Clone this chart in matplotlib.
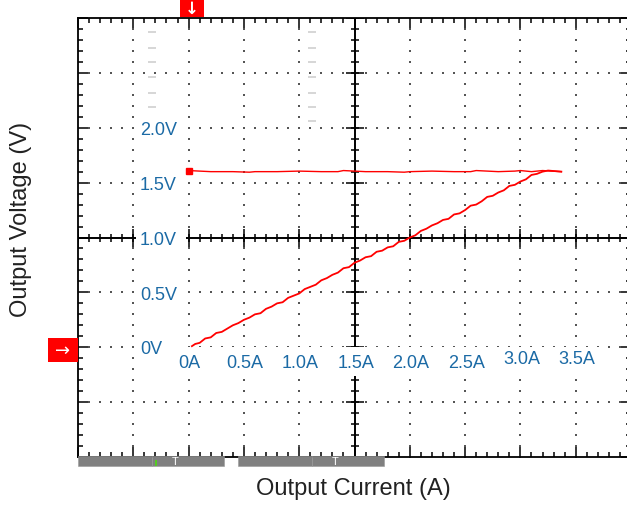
import numpy as np
import matplotlib.pyplot as plt
from matplotlib.patches import Rectangle

plt.rcParams['font.family'] = ['Liberation Sans', 'DejaVu Sans']

# trace (current in A, voltage in V)
ramp_i = [0.03, 0.06, 0.10, 0.15, 0.20, 0.25, 0.30, 0.35, 0.40, 0.45, 0.50, 0.55,
          0.60, 0.65, 0.70, 0.75, 0.80, 0.85, 0.90, 0.95, 1.00, 1.05, 1.10, 1.15,
          1.20, 1.25, 1.30, 1.35, 1.40, 1.45, 1.50, 1.55, 1.60, 1.65, 1.70, 1.75,
          1.80, 1.85, 1.90, 1.95, 2.00, 2.05, 2.10, 2.15, 2.20, 2.25, 2.30, 2.35,
          2.40, 2.45, 2.50, 2.55, 2.60, 2.65, 2.70, 2.75, 2.80, 2.85, 2.90, 2.95,
          3.00, 3.05, 3.10, 3.15, 3.20, 3.25, 3.37]
ramp_v = [0.01, 0.03, 0.04, 0.08, 0.09, 0.13, 0.14, 0.17, 0.20, 0.22, 0.25, 0.27,
          0.30, 0.31, 0.35, 0.37, 0.40, 0.41, 0.45, 0.47, 0.49, 0.53, 0.55, 0.57,
          0.61, 0.63, 0.66, 0.68, 0.72, 0.73, 0.77, 0.79, 0.82, 0.83, 0.87, 0.88,
          0.91, 0.92, 0.96, 0.97, 1.00, 1.02, 1.06, 1.08, 1.11, 1.13, 1.16, 1.17,
          1.21, 1.22, 1.25, 1.29, 1.30, 1.33, 1.37, 1.38, 1.41, 1.43, 1.47, 1.48,
          1.51, 1.53, 1.57, 1.58, 1.60, 1.61, 1.60]
flat_i = [0.00, 0.20, 0.40, 0.55, 0.60, 0.80, 1.00, 1.20, 1.35, 1.40, 1.60, 1.80,
          1.95, 2.00, 2.20, 2.40, 2.55, 2.60, 2.80, 2.95, 3.00, 3.10, 3.20, 3.37]
flat_v = [1.61, 1.60, 1.60, 1.595, 1.60, 1.60, 1.605, 1.60, 1.60, 1.61, 1.60, 1.60,
          1.595, 1.60, 1.605, 1.60, 1.60, 1.61, 1.60, 1.605, 1.61, 1.60, 1.61, 1.60]

v_ticks = [0.0, 0.5, 1.0, 1.5, 2.0]
v_labels = ['0V', '0.5V', '1.0V', '1.5V', '2.0V']
i_ticks = [0.0, 0.5, 1.0, 1.5, 2.0, 2.5, 3.0, 3.5]
i_labels = ['0A', '0.5A', '1.0A', '1.5A', '2.0A', '2.5A', '3.0A', '3.5A']

# faint gray dash artifacts near the top
dash_x = [-0.33, -0.33, -0.33, -0.33, -0.33, -0.33, 1.12, 1.12, 1.12, 1.12, 1.12, 1.12, 1.12]
dash_y = [2.87, 2.73, 2.60, 2.46, 2.32, 2.19, 2.87, 2.73, 2.60, 2.46, 2.32, 2.19, 2.06]

W, H = 627, 506
fig = plt.figure(figsize=(W / 100, H / 100), dpi=100)
ax = fig.add_axes([78 / W, 48 / H, 553 / W, 439 / H])
ax.set_xlim(-1.0, 4.0)
ax.set_ylim(-1.0, 3.0)

for s in ax.spines.values():
    s.set_linewidth(1.3)
ax.set_xticks(np.arange(-1.0, 4.01, 0.5))
ax.set_yticks(np.arange(-1.0, 3.01, 0.5))
ax.set_xticks(np.arange(-1.0, 4.01, 0.1), minor=True)
ax.set_yticks(np.arange(-1.0, 3.01, 0.1), minor=True)
ax.tick_params(which='both', direction='in', top=True, right=True,
               labelbottom=False, labelleft=False, width=1.1, color='black')
ax.tick_params(which='major', length=7)
ax.tick_params(which='minor', length=3.6)

# dotted graticule
xmaj = [x for x in np.arange(-0.5, 3.6, 0.5) if abs(x - 1.5) > 1e-6]
ymaj = [y for y in np.arange(-0.5, 2.6, 0.5) if abs(y - 1.0) > 1e-6]
xmin = np.arange(-1.0, 4.01, 0.1)
ymin = np.arange(-1.0, 3.01, 0.1)
gx, gy = np.meshgrid(xmaj, ymin)
ax.scatter(gx.ravel(), gy.ravel(), s=1.6, marker='s', color='#555555', linewidths=0, zorder=2)
gx, gy = np.meshgrid(xmin, ymaj)
ax.scatter(gx.ravel(), gy.ravel(), s=1.6, marker='s', color='#555555', linewidths=0, zorder=2)

# centre cross axes with ticks
ax.axhline(1.0, color='black', lw=1.4, zorder=2.5)
ax.axvline(1.5, color='black', lw=1.4, zorder=2.5)
ax.plot(xmin, np.full_like(xmin, 1.0), ls='none', marker='|', ms=5.8, mew=1.1, color='black', zorder=2.5)
ax.plot(np.full_like(ymin, 1.5), ymin, ls='none', marker='_', ms=5.8, mew=1.1, color='black', zorder=2.5)
xM = np.arange(-1.0, 4.01, 0.5)
yM = np.arange(-1.0, 3.01, 0.5)
ax.plot(xM, np.full_like(xM, 1.0), ls='none', marker='|', ms=13, mew=1.1, color='black', zorder=2.5)
ax.plot(np.full_like(yM, 1.5), yM, ls='none', marker='_', ms=13, mew=1.1, color='black', zorder=2.5)

ax.scatter(dash_x, dash_y, marker='_', s=30, color='#d0d0d0', linewidths=1.2, zorder=2)

# white band behind current labels, boxes behind voltage labels
ax.add_patch(Rectangle((-0.2, -0.265), 3.95, 0.265, facecolor='white', edgecolor='none', zorder=3))
for v in v_ticks:
    ax.add_patch(Rectangle((-0.48, v - 0.08), 0.46, 0.16, facecolor='white', edgecolor='none', zorder=3))

blue = '#1b6aa5'
for v, lab in zip(v_ticks, v_labels):
    ax.text(-0.44, v - 0.015, lab, ha='left', va='center', fontsize=13, color=blue, zorder=6)
for i, lab in zip(i_ticks, i_labels):
    dy = 0.03 if i >= 3.0 else 0.0
    ax.text(i + 0.01, -0.135 + dy, lab, ha='center', va='center', fontsize=13, color=blue, zorder=6)

# trace
ax.plot(flat_i, flat_v, color='red', lw=1.0, zorder=5)
ax.plot(ramp_i, ramp_v, color='red', lw=1.3, zorder=5)
ax.plot([flat_i[0]], [flat_v[0]], marker='s', ms=4.5, color='red', zorder=5)

# red channel markers
fig.add_artist(Rectangle((180 / W, (H - 18) / H), 24 / W, 18 / H, transform=fig.transFigure,
                         facecolor='red', edgecolor='none'))
fig.text(192 / W, (H - 9) / H, '\u2193', color='white', fontsize=12, fontweight='bold',
         ha='center', va='center', family='DejaVu Sans')
fig.add_artist(Rectangle((48 / W, (H - 363) / H), 30 / W, 24 / H, transform=fig.transFigure,
                         facecolor='red', edgecolor='none'))
fig.text(63 / W, (H - 351) / H, '\u2192', color='white', fontsize=13,
         ha='center', va='center', family='DejaVu Sans')

# gray status bars under the screen
bars = [(78, 74), (152, 72), (238, 74), (312, 72)]
for x0, w in bars:
    fig.add_artist(Rectangle((x0 / W, (H - 467) / H), w / W, 10 / H, transform=fig.transFigure,
                             facecolor='#808080', edgecolor='#999999', lw=0.4))
for xt in [175, 335]:
    fig.text(xt / W, (H - 462) / H, 'T', color='white', fontsize=8, ha='center', va='center')
fig.add_artist(Rectangle((155 / W, (H - 467) / H), 2 / W, 6 / H, transform=fig.transFigure,
                         facecolor='#55cc22', edgecolor='none'))

fig.text(353 / W, (H - 489) / H, 'Output Current (A)', fontsize=17, color='#222222',
         ha='center', va='center')
fig.text(21 / W, (H - 219) / H, 'Output Voltage (V)', fontsize=17, color='#222222',
         ha='center', va='center', rotation=90)

fig.savefig('out.png', dpi=100)
